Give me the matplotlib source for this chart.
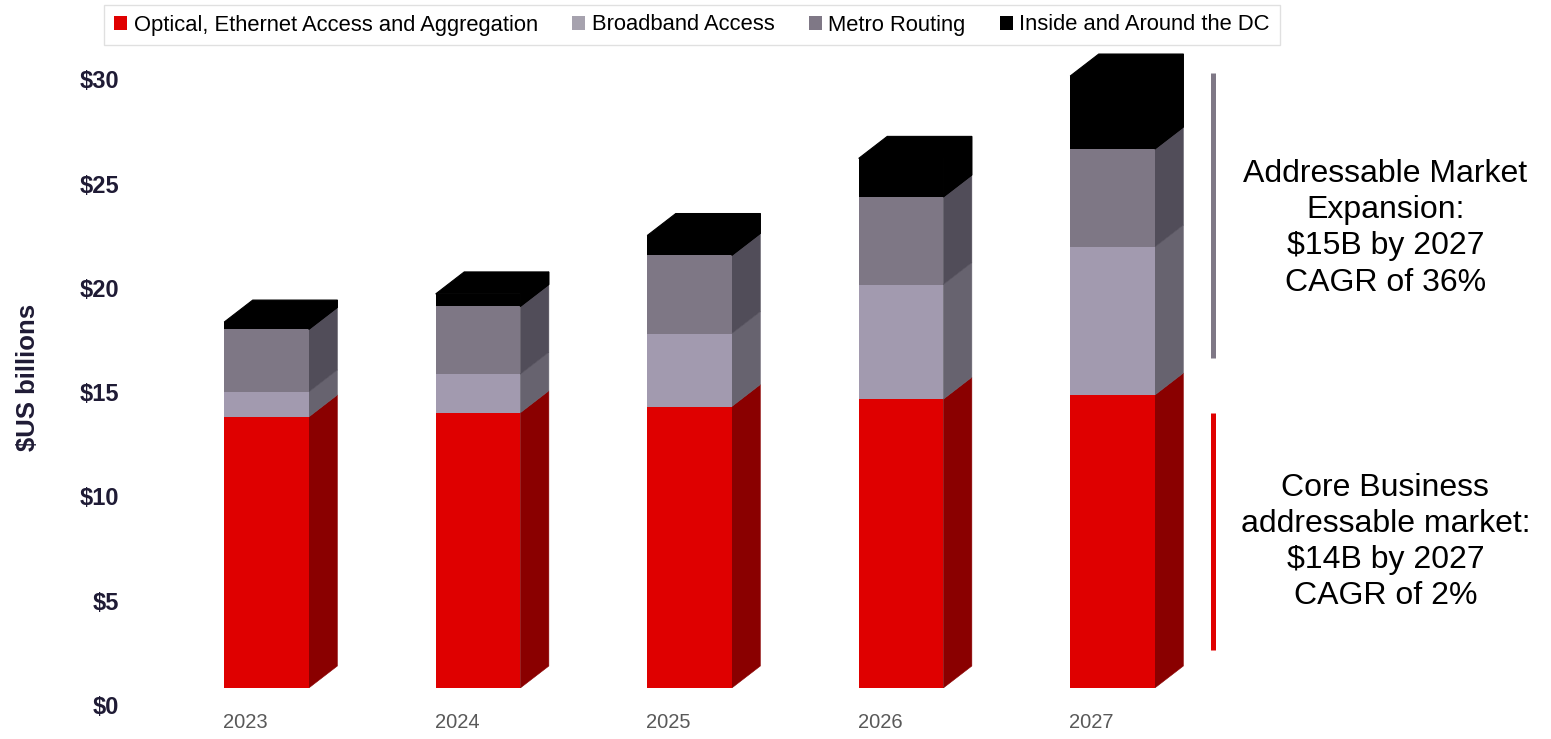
import matplotlib
matplotlib.use("Agg")
import matplotlib.pyplot as plt
import matplotlib.transforms as mtransforms
from matplotlib.patches import Polygon, Patch
import numpy as np

plt.rcParams["font.family"] = ["Liberation Sans", "DejaVu Sans"]

# data ($US billions)
years = ["2023", "2024", "2025", "2026", "2027"]
optical = [13.0, 13.2, 13.5, 13.85, 14.05]
broadband = [1.2, 1.85, 3.5, 5.5, 7.1]
metro = [3.0, 3.25, 3.75, 4.2, 4.7]
inside_dc = [0.35, 0.6, 0.95, 1.85, 3.5]
series_names = ["Optical, Ethernet Access and Aggregation", "Broadband Access",
                "Metro Routing", "Inside and Around the DC"]
y_ticks = [0, 5, 10, 15, 20, 25, 30]

front_colors = ["#DF0000", "#A29AAF", "#7E7785", "#000000"]
side_colors = ["#8A0000", "#67636F", "#514D59", "#000000"]
legend_colors = ["#E00000", "#A6A2AE", "#7F7886", "#000000"]
tick_color = "#1F1B35"

fig = plt.figure(figsize=(15.51, 7.39), dpi=100)
ax = fig.add_axes([130 / 1551, 51 / 739, 1421 / 1551, 656.8 / 739])

x = np.arange(len(years))
width = 0.4
dx, dy = 0.135, 1.055  # depth of the 3d effect

series = [optical, broadband, metro, inside_dc]
bottom = np.zeros(len(years))
for vals, fc, sc in zip(series, front_colors, side_colors):
    vals = np.array(vals)
    ax.bar(x, vals, width, bottom=bottom, color=fc, edgecolor="none", zorder=2)
    for xi, b, v in zip(x, bottom, vals):
        xr = xi + width / 2
        ax.add_patch(Polygon([(xr, b), (xr + dx, b + dy), (xr + dx, b + v + dy), (xr, b + v)],
                             closed=True, facecolor=sc, edgecolor=sc, lw=0.4, zorder=1))
    bottom = bottom + vals

# top face together with the side of the top (black) segment, as one shape
top_bottom = bottom - np.array(inside_dc)
for xi, t, tb in zip(x, bottom, top_bottom):
    xl, xr = xi - width / 2, xi + width / 2
    ax.add_patch(Polygon([(xl, t), (xl + dx, t + dy), (xr + dx, t + dy), (xr + dx, tb + dy),
                          (xr, tb), (xr, t)],
                         closed=True, facecolor="#000000", edgecolor="#000000", lw=0.8, zorder=3))

ax.set_xlim(-0.6454, 6.0733)
ax.set_ylim(0, 31.5)
for s in ax.spines.values():
    s.set_visible(False)

ax.set_yticks(y_ticks)
ax.set_yticklabels([f"${v}" for v in y_ticks], fontsize=17, fontweight="bold", color=tick_color)
ax.set_xticks(x)
ax.set_xticklabels(years, fontsize=14.5, color="#595959")
ax.tick_params(axis="y", length=0, pad=8)
ax.tick_params(axis="x", length=0, pad=18)

shift_y = mtransforms.ScaledTranslation(0, -17 / 100, fig.dpi_scale_trans)
for lab in ax.get_yticklabels():
    lab.set_transform(lab.get_transform() + shift_y)
shift_x = mtransforms.ScaledTranslation(-21 / 100, 0, fig.dpi_scale_trans)
for lab in ax.get_xticklabels():
    lab.set_transform(lab.get_transform() + shift_x)

fig.text(28 / 1551, 1 - 377 / 739, "$US billions", rotation=90, ha="center", va="center",
         fontsize=18.5, fontweight="bold", color=tick_color)

# bracket lines and notes on the right
ax.plot([4.475, 4.475], [15.83, 29.5], color="#7F7886", lw=3.6, clip_on=False, solid_capstyle="butt")
ax.plot([4.475, 4.475], [1.82, 13.19], color="#E00000", lw=3.6, clip_on=False, solid_capstyle="butt")
ax.text(5.29, 22.05, "Addressable Market\nExpansion:\n$15B by 2027\nCAGR of 36%",
        ha="center", va="center", fontsize=23, linespacing=1.27, color="#000000")
ax.text(5.29, 7.0, "Core Business\naddressable market:\n$14B by 2027\nCAGR of 2%",
        ha="center", va="center", fontsize=23, linespacing=1.27, color="#000000")

handles = [Patch(facecolor=c, edgecolor="none") for c in legend_colors]
leg = fig.legend(handles, series_names, loc="center", bbox_to_anchor=(692 / 1551, 1 - 25 / 739),
                 ncol=4, fontsize=15.8, frameon=True, fancybox=False, handlelength=0.6,
                 handleheight=0.6, handletextpad=0.3, columnspacing=1.55, borderpad=0.45)
leg.get_frame().set_edgecolor("#D9D9D9")
leg.get_frame().set_linewidth(1.0)

fig.savefig("out.png", dpi=100)
